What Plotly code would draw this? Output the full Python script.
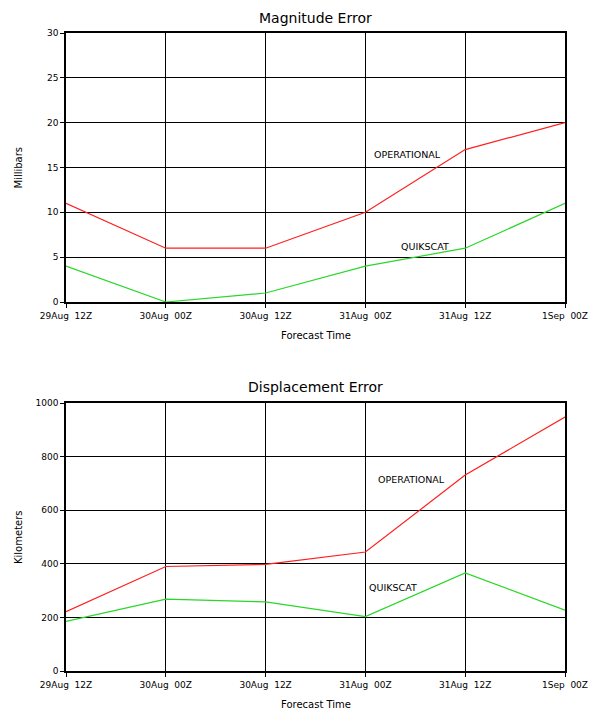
import plotly.graph_objects as go
from plotly.subplots import make_subplots

# Forecast verification times
forecast_times = ["29Aug  12Z", "30Aug  00Z", "30Aug  12Z", "31Aug  00Z", "31Aug  12Z", "1Sep  00Z"]

# Central pressure magnitude error (mb)
mag_operational = [11, 6, 6, 10, 17, 20]
mag_quikscat = [4, 0, 1, 4, 6, 11]

# Track displacement error (km)
disp_operational = [221, 390, 398, 444, 731, 948]
disp_quikscat = [185, 268, 258, 203, 366, 227]

mag_ticks = [0, 5, 10, 15, 20, 25, 30]
disp_ticks = [0, 200, 400, 600, 800, 1000]

RED = "rgb(255,30,30)"
GREEN = "rgb(40,215,40)"
FONT = "DejaVu Sans"

x_idx = list(range(len(forecast_times)))

fig = make_subplots(rows=2, cols=1, vertical_spacing=0.0)

fig.add_trace(go.Scatter(x=x_idx, y=mag_operational, mode="lines",
                         line=dict(color=RED, width=1.2), showlegend=False), row=1, col=1)
fig.add_trace(go.Scatter(x=x_idx, y=mag_quikscat, mode="lines",
                         line=dict(color=GREEN, width=1.2), showlegend=False), row=1, col=1)
fig.add_trace(go.Scatter(x=x_idx, y=disp_operational, mode="lines",
                         line=dict(color=RED, width=1.2), showlegend=False), row=2, col=1)
fig.add_trace(go.Scatter(x=x_idx, y=disp_quikscat, mode="lines",
                         line=dict(color=GREEN, width=1.2), showlegend=False), row=2, col=1)

axis_common = dict(showline=True, linecolor="black", linewidth=1.5, mirror=True,
                   showgrid=True, gridcolor="black", gridwidth=1,
                   ticks="outside", ticklen=4, tickcolor="black",
                   tickfont=dict(family=FONT, size=9, color="black"), zeroline=False)

for r in (1, 2):
    fig.update_xaxes(range=[0, 5], tickvals=x_idx, ticktext=forecast_times,
                     **axis_common, row=r, col=1)

fig.update_yaxes(range=[0, 30], tickvals=mag_ticks, **axis_common, row=1, col=1)
fig.update_yaxes(range=[0, 1000], tickvals=disp_ticks, **axis_common, row=2, col=1)

TOP_LO = 1 - 269 / 638
BOT_HI = 268 / 638

# Plot areas positioned in the page
fig.update_layout(
    xaxis=dict(domain=[0, 1]),
    xaxis2=dict(domain=[0, 1]),
    yaxis=dict(domain=[TOP_LO, 1]),
    yaxis2=dict(domain=[0, BOT_HI]),
)

txt = dict(family=FONT, color="black")


def paper_label(text, x, y, size, xshift=0, yshift=0, angle=0):
    return dict(text=text, x=x, y=y, xref="paper", yref="paper",
                xanchor="center", yanchor="middle",
                xshift=xshift, yshift=yshift, textangle=angle,
                showarrow=False, font=dict(size=size, **txt))


def curve_label(text, x, y, xref, yref):
    return dict(text=text, x=x, y=y, xref=xref, yref=yref,
                xanchor="center", yanchor="middle",
                showarrow=False, font=dict(size=9.5, **txt))


annotations = [
    paper_label("Magnitude Error", 0.5, 1, 14, yshift=15),
    paper_label("Displacement Error", 0.5, BOT_HI, 14, yshift=16),
    paper_label("Forecast Time", 0.5, TOP_LO, 10, yshift=-34),
    paper_label("Forecast Time", 0.5, 0, 10, yshift=-33),
    paper_label("Millibars", 0, (TOP_LO + 1) / 2, 10, xshift=-48, angle=-90),
    paper_label("Kilometers", 0, BOT_HI / 2, 10, xshift=-48, angle=-90),
    curve_label("OPERATIONAL", 3.42, 16.5, "x", "y"),
    curve_label("QUIKSCAT", 3.6, 6.2, "x", "y"),
    curve_label("OPERATIONAL", 3.46, 713, "x2", "y2"),
    curve_label("QUIKSCAT", 3.28, 311, "x2", "y2"),
]

fig.update_layout(
    width=599, height=711,
    margin=dict(l=66, r=34, t=33, b=40),
    paper_bgcolor="white", plot_bgcolor="white",
    annotations=annotations,
    font=dict(family=FONT, color="black"),
)

fig.write_html("out.html")
